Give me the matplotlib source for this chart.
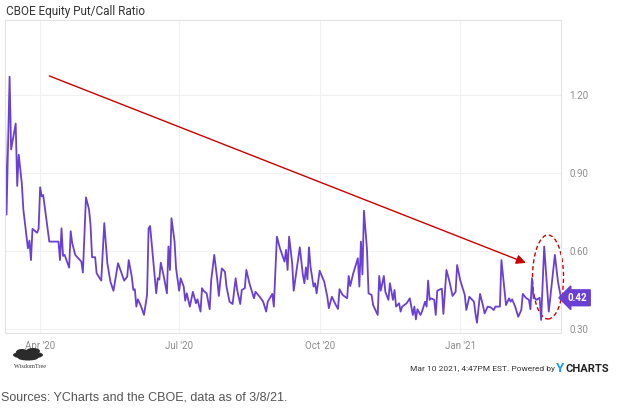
import numpy as np
import pandas as pd
import matplotlib
matplotlib.use('Agg')
import matplotlib.pyplot as plt
import matplotlib.dates as mdates
from matplotlib.patches import Ellipse

# CBOE equity put/call ratio
dates = [
    '2020-03-09', '2020-03-10', '2020-03-12', '2020-03-13', '2020-03-16', '2020-03-17',
    '2020-03-18', '2020-03-20', '2020-03-21', '2020-03-24', '2020-03-25', '2020-03-26',
    '2020-03-27', '2020-03-30', '2020-03-31', '2020-04-01', '2020-04-02', '2020-04-03',
    '2020-04-07', '2020-04-13', '2020-04-14', '2020-04-15', '2020-04-16', '2020-04-17',
    '2020-04-20', '2020-04-21', '2020-04-22', '2020-04-24', '2020-04-25', '2020-04-28',
    '2020-04-29', '2020-05-01', '2020-05-03', '2020-05-04', '2020-05-05', '2020-05-07',
    '2020-05-08', '2020-05-11', '2020-05-13', '2020-05-15', '2020-05-17', '2020-05-19',
    '2020-05-22', '2020-05-24', '2020-05-26', '2020-05-28', '2020-05-29', '2020-05-31',
    '2020-06-01', '2020-06-02', '2020-06-03', '2020-06-04', '2020-06-06', '2020-06-08',
    '2020-06-10', '2020-06-11', '2020-06-12', '2020-06-14', '2020-06-16', '2020-06-17',
    '2020-06-18', '2020-06-19', '2020-06-21', '2020-06-23', '2020-06-24', '2020-06-25',
    '2020-06-26', '2020-06-28', '2020-06-29', '2020-07-01', '2020-07-02', '2020-07-04',
    '2020-07-05', '2020-07-06', '2020-07-08', '2020-07-10', '2020-07-12', '2020-07-13',
    '2020-07-15', '2020-07-16', '2020-07-17', '2020-07-19', '2020-07-21', '2020-07-22',
    '2020-07-24', '2020-07-26', '2020-07-27', '2020-07-28', '2020-07-29', '2020-07-31',
    '2020-08-01', '2020-08-03', '2020-08-05', '2020-08-07', '2020-08-08', '2020-08-10',
    '2020-08-11', '2020-08-13', '2020-08-14', '2020-08-16', '2020-08-19', '2020-08-20',
    '2020-08-23', '2020-08-25', '2020-08-27', '2020-08-28', '2020-08-31', '2020-09-01',
    '2020-09-03', '2020-09-05', '2020-09-08', '2020-09-09', '2020-09-10', '2020-09-11',
    '2020-09-13', '2020-09-14', '2020-09-18', '2020-09-20', '2020-09-21', '2020-09-22',
    '2020-09-23', '2020-09-24', '2020-09-25', '2020-09-27', '2020-09-28', '2020-09-29',
    '2020-10-01', '2020-10-04', '2020-10-06', '2020-10-07', '2020-10-09', '2020-10-11',
    '2020-10-13', '2020-10-14', '2020-10-16', '2020-10-19', '2020-10-20', '2020-10-21',
    '2020-10-23', '2020-10-26', '2020-10-27', '2020-10-28', '2020-10-29', '2020-10-30',
    '2020-11-01', '2020-11-02', '2020-11-04', '2020-11-05', '2020-11-08', '2020-11-09',
    '2020-11-10', '2020-11-12', '2020-11-13', '2020-11-15', '2020-11-16', '2020-11-18',
    '2020-11-19', '2020-11-20', '2020-11-22', '2020-11-23', '2020-11-24', '2020-11-27',
    '2020-11-29', '2020-12-01', '2020-12-02', '2020-12-03', '2020-12-04', '2020-12-06',
    '2020-12-07', '2020-12-09', '2020-12-10', '2020-12-11', '2020-12-12', '2020-12-13',
    '2020-12-15', '2020-12-16', '2020-12-17', '2020-12-19', '2020-12-20', '2020-12-21',
    '2020-12-23', '2020-12-25', '2020-12-27', '2020-12-29', '2020-12-30', '2021-01-01',
    '2021-01-04', '2021-01-05', '2021-01-07', '2021-01-10', '2021-01-11', '2021-01-12',
    '2021-01-14', '2021-01-16', '2021-01-17', '2021-01-19', '2021-01-21', '2021-01-23',
    '2021-01-24', '2021-01-27', '2021-01-28', '2021-01-30', '2021-01-31', '2021-02-02',
    '2021-02-03', '2021-02-04', '2021-02-06', '2021-02-08', '2021-02-10', '2021-02-11',
    '2021-02-13', '2021-02-15', '2021-02-16', '2021-02-17', '2021-02-18', '2021-02-19',
    '2021-02-20', '2021-02-22', '2021-02-23', '2021-02-25', '2021-02-28', '2021-03-04',
    '2021-03-06', '2021-03-08',
]
ratio = [
    1.11, 0.74, 1.27, 0.99, 1.09, 0.85,
    0.97, 0.86, 0.76, 0.61, 0.64, 0.565,
    0.685, 0.67, 0.685, 0.845, 0.81, 0.815,
    0.636, 0.636, 0.565, 0.687, 0.581, 0.585,
    0.536, 0.676, 0.63, 0.585, 0.578, 0.559,
    0.517, 0.806, 0.76, 0.70, 0.576, 0.576,
    0.514, 0.486, 0.707, 0.553, 0.482, 0.447,
    0.553, 0.52, 0.486, 0.501, 0.565, 0.501,
    0.45, 0.453, 0.386, 0.414, 0.388, 0.354,
    0.431, 0.687, 0.696, 0.565, 0.437, 0.495,
    0.49, 0.555, 0.501, 0.437, 0.617, 0.527,
    0.726, 0.636, 0.533, 0.447, 0.495, 0.463,
    0.409, 0.437, 0.386, 0.443, 0.399, 0.414,
    0.367, 0.457, 0.447, 0.437, 0.376, 0.488,
    0.585, 0.488, 0.427, 0.488, 0.533, 0.52,
    0.463, 0.405, 0.396, 0.495, 0.45, 0.396,
    0.45, 0.457, 0.527, 0.476, 0.418, 0.443,
    0.422, 0.405, 0.367, 0.405, 0.435, 0.386,
    0.655, 0.61, 0.559, 0.604, 0.527, 0.655,
    0.553, 0.447, 0.614, 0.508, 0.476, 0.537,
    0.491, 0.614, 0.54, 0.463, 0.476, 0.437,
    0.524, 0.482, 0.424, 0.38, 0.424, 0.399,
    0.377, 0.453, 0.431, 0.418, 0.504, 0.465,
    0.514, 0.572, 0.463, 0.636, 0.51, 0.755,
    0.604, 0.437, 0.431, 0.392, 0.354, 0.504,
    0.447, 0.504, 0.443, 0.412, 0.476, 0.412,
    0.45, 0.386, 0.399, 0.367, 0.386, 0.399,
    0.418, 0.354, 0.386, 0.337, 0.376, 0.354,
    0.367, 0.405, 0.386, 0.486, 0.412, 0.418,
    0.412, 0.354, 0.447, 0.453, 0.455, 0.358,
    0.527, 0.482, 0.427, 0.443, 0.546, 0.488,
    0.431, 0.373, 0.424, 0.405, 0.36, 0.324,
    0.435, 0.388, 0.36, 0.386, 0.383, 0.373,
    0.386, 0.386, 0.565, 0.45, 0.392, 0.418,
    0.405, 0.414, 0.386, 0.347, 0.373, 0.435,
    0.42, 0.412, 0.376, 0.495, 0.418, 0.418,
    0.412, 0.42, 0.335, 0.617, 0.367, 0.585,
    0.482, 0.42,
]

ytick_vals = [0.30, 0.60, 0.90, 1.20]
xtick_dates = ['2020-04-01', '2020-07-01', '2020-10-01', '2021-01-01']
xtick_labels = ["Apr '20", "Jul '20", "Oct '20", "Jan '21"]

# annotation: trend arrow and the circled recent spike
arrow_start = ('2020-04-07', 1.273)
arrow_end = ('2021-02-13', 0.554)
circle_center = ('2021-02-27 12:00', 0.50)

purple = '#6a40d4'
red = '#cc0000'

plt.rcParams['font.family'] = ['Roboto', 'DejaVu Sans']

x = pd.to_datetime(dates)

fig = plt.figure(figsize=(6.17, 4.12), dpi=100)
ax = fig.add_axes([5 / 617, 1 - 333 / 412, 556 / 617, 313 / 412])

ax.plot(x, ratio, color=purple, lw=1.3, solid_joinstyle='round')

ax.set_xlim(x[0], x[-1])
ax.set_ylim(0.2846, 1.488)

ax.set_yticks(ytick_vals)
ax.set_yticklabels(['%.2f' % v for v in ytick_vals])
ax.yaxis.tick_right()
ax.set_xticks(pd.to_datetime(xtick_dates))
ax.set_xticklabels(xtick_labels)
ax.tick_params(axis='both', length=0, labelsize=7, labelcolor='#8c8c8c')
ax.tick_params(axis='y', pad=6)
ax.tick_params(axis='x', pad=6)
ax.grid(True, color='#f0f0f0', lw=0.8)
ax.set_axisbelow(True)
for s in ax.spines.values():
    s.set_color('#e3e3e3')
    s.set_linewidth(0.8)

# red trend arrow
ax.annotate('', xy=(pd.Timestamp(arrow_end[0]), arrow_end[1]),
            xytext=(pd.Timestamp(arrow_start[0]), arrow_start[1]),
            arrowprops=dict(arrowstyle='-|>', color=red, lw=1.0,
                            mutation_scale=14, shrinkA=0, shrinkB=0))

# dashed ellipse around the latest spikes
ell = Ellipse((mdates.date2num(pd.Timestamp(circle_center[0])), circle_center[1]),
              width=20.3, height=0.323, fill=False, ls=(0, (3, 2)),
              ec=red, lw=1.0, clip_on=False)
ax.add_patch(ell)

# last value tag
ax.text(1.012, ratio[-1], '%.2f' % ratio[-1], transform=ax.get_yaxis_transform(),
        ha='left', va='center', fontsize=7, fontweight='bold', color='white',
        bbox=dict(boxstyle='larrow,pad=0.3', fc=purple, ec=purple))

fig.text(6 / 617, 1 - 12 / 412, 'CBOE Equity Put/Call Ratio', fontsize=8.5,
         color='#333333', va='center', ha='left')

# footer
fig.text(555 / 617, 1 - 369 / 412, 'Mar 10 2021, 4:47PM EST. Powered by',
         fontsize=6, color='#333333', ha='right', va='center')
fig.text(556 / 617, 1 - 369 / 412, 'Y', fontsize=9.5, fontweight='bold',
         color='#1a9bf0', ha='left', va='center')
fig.text(565 / 617, 1 - 369 / 412, 'CHARTS', fontsize=8, fontweight='bold',
         color='#222222', ha='left', va='center')

# WisdomTree logo (rough)
for cx, cy, w, h in [(28, 355, 30, 8), (22, 352, 12, 6), (33, 351, 14, 6), (28, 358, 20, 5)]:
    fig.patches.append(Ellipse((cx / 617, 1 - cy / 412), w / 617, h / 412,
                               transform=fig.transFigure, fc='#2b2b2b', ec='none'))
fig.text(30 / 617, 1 - 367 / 412, 'WisdomTree', fontsize=4.5, family='Liberation Serif',
         color='#333333', ha='center', va='center')

fig.text(1 / 617, 1 - 398 / 412, 'Sources: YCharts and the CBOE, data as of 3/8/21.',
         fontsize=9, family='Liberation Sans', color='#555555', ha='left', va='center')

fig.savefig('out.png', dpi=100, facecolor='white')
